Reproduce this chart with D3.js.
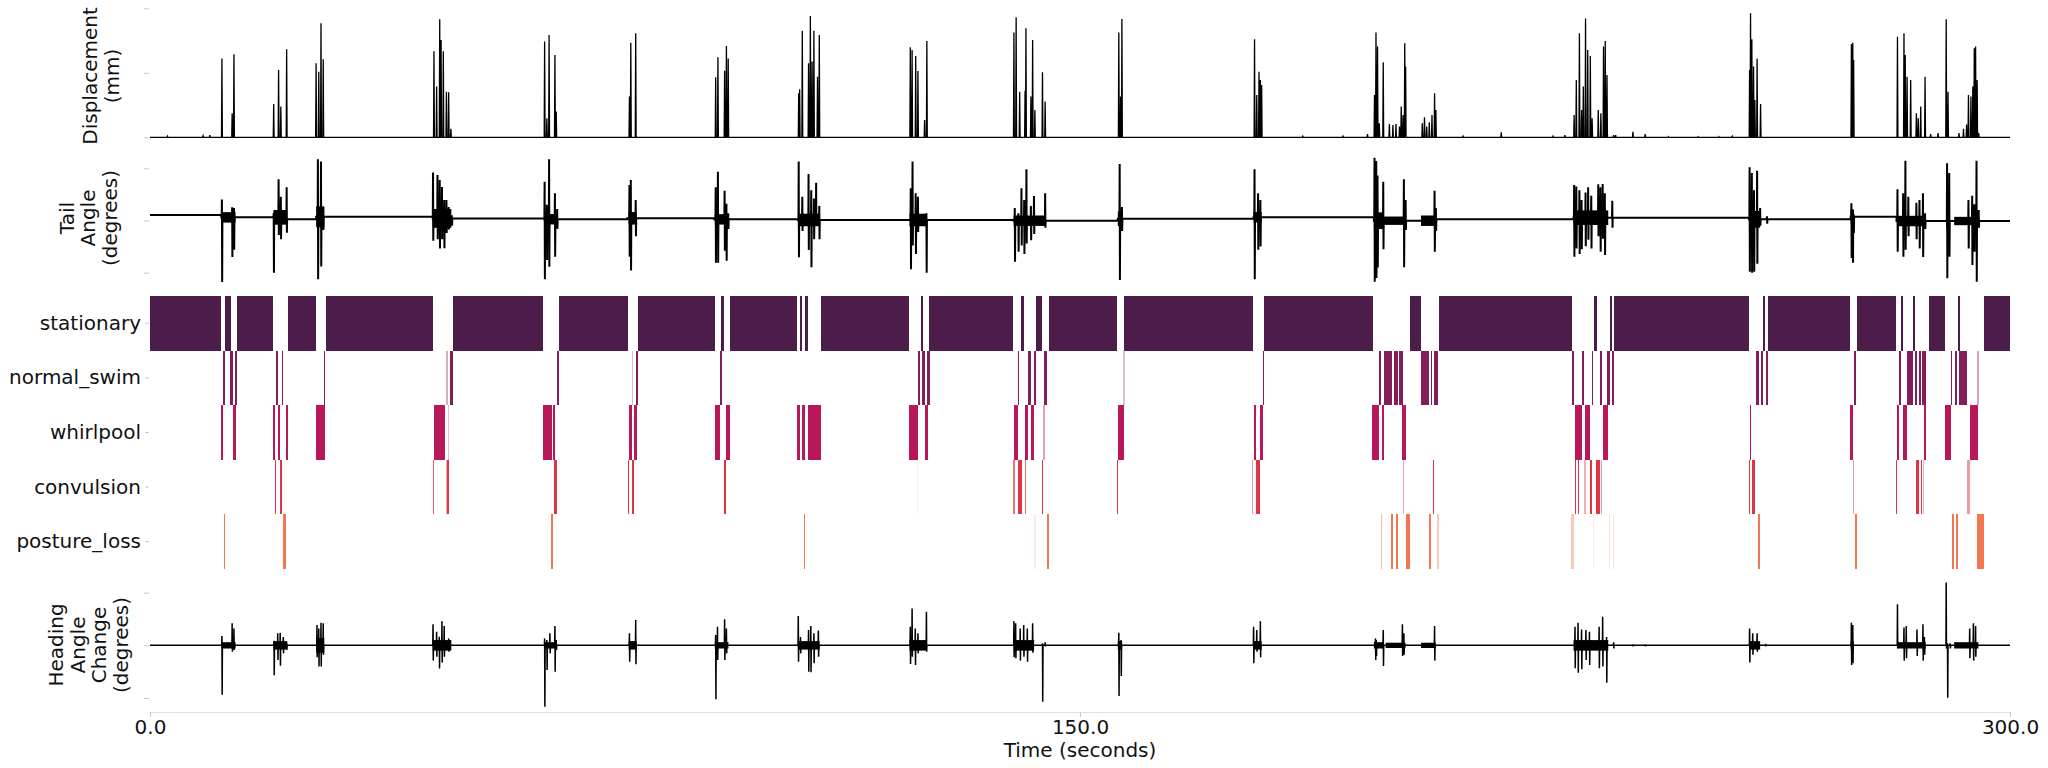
<!DOCTYPE html>
<html><head><meta charset="utf-8">
<script src="https://cdn.jsdelivr.net/npm/d3@7"></script>
<style>body{margin:0;background:#fff} text{font-family:"DejaVu Sans",sans-serif}</style>
</head><body><svg id="c" width="2048" height="768"></svg>
<script>
// ---------------- data ----------------
const timeDomain = [0, 300];
const xTickValues = [0, 150, 300];
const xTickLabels = ["0.0", "150.0", "300.0"];
const xAxisTitle = "Time (seconds)";
const behaviors = ["stationary", "normal_swim", "whirlpool", "convulsion", "posture_loss"];
const behaviorColors = ["#4c1d4b", "#841e5a", "#b8185a", "#e13342", "#f37651"];
const dispLabel = ["Displacement", "(mm)"];
const tailLabel = ["Tail", "Angle", "(degrees)"];
const headLabel = ["Heading", "Angle", "Change", "(degrees)"];

// displacement spikes: [time s, mm]
const displacementSpikes = [
[2.81,0.05],[8.57,0.07],[9.65,0.1],
[11.60,3.67],[13.25,1.12],[13.54,3.86],
[19.95,1.55],[20.74,3.13],[21.10,1.43],[22.04,4.10],
[26.79,3.44],[27.22,3.05],[27.58,5.30],[27.94,3.63],
[45.80,4.00],[46.23,2.36],[46.73,5.49],[46.95,4.53],[47.31,4.00],[47.81,2.12],[48.17,2.10],[48.53,0.40],
[63.65,4.45],[64.01,0.88],[64.37,4.76],[65.31,3.83],[65.52,1.20],
[77.33,1.90],[77.55,4.40],[78.34,4.84],
[91.24,2.79],[91.60,3.72],[92.68,3.10],[92.97,4.25],[93.26,3.67],
[104.63,2.05],[104.78,2.23],[105.21,4.95],[106.22,3.44],[106.51,5.64],[106.79,3.52],[107.08,4.96],[107.66,2.82],[107.95,4.76],
[122.63,4.19],[122.92,4.06],[123.50,3.78],[123.86,3.08],[124.94,0.80],[125.30,4.48],
[139.34,4.87],[139.70,5.58],[140.27,2.12],[141.14,2.17],[141.28,5.07],[142.08,1.90],[142.36,4.53],[142.72,1.27],[143.95,3.02],[144.38,1.66],
[156.26,4.87],[156.55,1.90],[156.76,5.50],
[178.15,4.56],[178.51,1.97],[178.87,3.05],[179.09,2.67],[179.30,2.43],
[185.93,0.05],[192.41,0.05],[196.37,0.15],
[197.50,1.97],[197.74,4.88],[197.99,4.22],[198.27,0.65],[198.91,3.49],
[199.90,0.62],[200.47,0.57],[200.96,0.62],[201.53,0.50],[201.81,1.43],[202.10,1.04],[202.38,4.37],[202.52,3.29],
[205.21,0.65],[205.56,0.93],[205.92,0.50],[206.34,0.70],[206.77,1.04],[207.19,2.05],[207.40,1.27],
[211.79,0.05],[217.95,0.23],[226.30,0.05],[228.20,0.10],
[229.70,1.04],[230.05,2.67],[230.55,4.84],[230.90,1.27],[231.18,2.36],[231.54,5.53],[231.89,4.06],[232.31,3.78],[232.60,0.88],[233.59,1.27],[234.01,1.12],[234.44,4.22],[234.72,4.48],[235.00,2.90],
[236.07,0.10],[236.40,0.10],[239.18,0.25],[241.16,0.15],[244.90,0.03],[249.70,0.03],[253.05,0.03],[255.20,0.05],
[258.00,3.13],[258.15,5.77],[258.36,4.56],[258.64,3.29],[258.85,1.74],[259.21,3.67],[259.77,1.55],
[274.42,4.34],[274.64,4.40],[274.78,3.60],
[281.85,4.68],[282.90,4.84],[283.10,3.83],[283.40,2.82],[283.98,2.67],[284.90,1.12],[285.20,0.88],[285.60,1.43],[286.30,2.82],[287.20,0.15],[288.40,0.20],
[289.71,5.49],[290.00,2.12],[291.77,0.20],[292.50,0.40],[293.00,0.60],[293.30,1.97],[293.70,1.90],[294.00,2.36],[294.24,4.14],[294.45,4.22],[294.70,2.67],[294.95,0.20]
];

// tail angle resting level: [start, end, degrees]
const tailBaseline = [
[0,11.5,5.3],[11.5,20,3],[20,26.8,1.2],[26.8,45.6,3.5],[45.6,63.6,2],[63.6,77,1.2],
[77,91,2.1],[91,104.5,1.1],[104.5,139.3,0.5],[139.3,156.1,-0.2],[156.1,178,1.7],[178,197.4,3.1],
[197.4,207.4,-0.2],[207.4,229.6,1.1],[229.6,257.9,2.7],[257.9,274.3,1.1],[274.3,281.7,3.7],[281.7,300,-0.5]
];
// tail angle swings: [time, max, min]
const tailSpikes = [
[11.60,20,-59],[13.25,12.6,-35],[13.54,11.9,-28],
[19.95,6.9,-50],[20.74,39.5,-14],[21.10,22.8,-18],[22.04,31.8,-11.7],
[27.08,58.6,-56.3],[27.58,56.4,-44],[27.94,13,-9],
[45.65,46,-19.3],[46.37,43.6,-18],[46.73,38.8,-26.7],[47.09,32,-18],[47.45,19.6,-26.6],[47.81,19.6,-12],[48.17,13,-8.6],[48.68,5,-5],
[63.65,37.2,-56.3],[64.01,15,-37.8],[64.37,58.6,-44.2],[65.31,26,-34.7],[65.67,11,-8],
[77.33,34,-34.7],[77.55,38.8,-48],[78.34,19.6,-15],
[91.24,31.8,-40.4],[91.60,46.8,-40.4],[92.68,28.6,-29],[92.97,16,-38.5],[93.26,7,-8],
[104.63,56.4,-35.3],[105.21,22.8,-10],[106.22,44.6,-28.3],[106.65,29,-44.8],[107.08,21,-18],[107.44,36.2,-5],[107.95,14,-18],
[122.70,30.8,-46.8],[122.99,56.4,-23.9],[123.50,26,-32],[123.86,22.8,-11],[125.23,7,-50],
[139.48,12,-39.5],[140.06,7,-30],[140.56,30.8,-24],[141.00,19.6,-32],[141.36,49,-22],[142.08,14,-19],[142.58,23.5,-13],[144.38,26,-7],
[156.40,54,-57],[156.76,13,-10],
[178.15,49,-56.3],[178.72,26,-28],[179.09,19.6,-25],
[197.50,60,-58.6],[197.78,57,-55],[197.99,43,-45],[198.91,37,-27.6],[202.24,39.5,-44.8],[202.52,19.6,-9],[207.19,28.6,-30],[207.40,12,-10],
[229.70,34,-34.7],[230.05,32.6,-26.7],[230.55,29,-32],[230.90,19.6,-27.6],[231.54,26.7,-24.6],[231.96,31.8,-18.4],[232.46,23.7,-26.7],[233.59,34.7,-15],[233.94,31.8,-30],[234.30,35,-17.5],[234.65,26,-33],[235.85,19,-7],
[258.00,51,-49],[258.36,45.6,-50],[258.71,29,-49],[259.21,47.7,-41.5],[259.70,11.9,-5],[260.80,4,-3],
[274.42,16.5,-36],[274.64,10,-40.4],[274.78,6,-12],
[281.85,30,-30],[282.77,26,-34.7],[283.13,57.3,-28],[283.60,22.8,-15],[284.90,17,-18],[285.40,19.6,-26.7],[285.96,26,-35],[286.30,7,-8],
[289.85,54.8,-55.4],[290.20,45.6,-34.7],[293.30,19.6,-26.7],[293.90,23.7,-42.6],[294.24,15.5,-30],[294.60,57.3,-58.6],[294.95,10,-7]
];
// dense tail oscillation during bouts: [start, end, half-range degrees]
const tailBursts = [
[11.5,13.8,5],[19.9,22.1,7],[26.8,28.1,10],[45.6,48.6,9],[63.6,65.6,5],[77.2,78.5,6],
[91.1,93.3,5],[104.5,108.0,6],[122.5,125.3,6],[139.3,144.5,5],[156.1,156.8,7],[178.0,179.3,5],
[197.4,199.0,8],[199.0,202.5,4],[205.0,207.4,5],[229.6,235.2,7],[257.9,259.7,8],[274.3,274.8,7],
[281.8,286.4,5],[289.7,290.3,7],[291.0,295.0,4]
];

// heading angle change: [time, max, min]
const headingSpikes = [
[11.60,8.9,-47],[13.25,20.9,-6],[13.54,16,-4.4],
[20.00,4.4,-28.5],[20.60,11.4,-14],[21.00,12,-19.3],[21.50,8,-7.6],[22.04,3.5,-4.4],
[26.93,19.3,-11.4],[27.22,16,-20],[27.58,21.5,-20],[27.94,20.9,-9],
[45.65,20,-14.5],[46.23,13,-10.8],[46.66,8.2,-22],[47.09,23,-16.4],[47.45,18.3,-10.8],[48.17,6.6,-6],
[63.65,6.6,-58.2],[64.01,5,-23.4],[64.50,11.4,-7.6],[65.31,18.3,-25],[65.52,5,-4.4],
[77.33,11.4,-15.5],[78.34,24,-18],
[91.24,9.8,-51.2],[91.53,17.7,-14],[92.68,24.7,-14],[92.97,16,-7.6],
[104.56,27.8,-15.5],[104.92,8,-7.6],[106.22,14.5,-25],[106.58,18.3,-25.6],[107.08,11.4,-17],[107.80,14,-10.8],
[122.63,17.7,-17.7],[122.92,35,-10.8],[123.43,16,-18.7],[123.86,11.4,-7.6],[125.23,32,-6],
[139.34,23,-11.4],[139.62,21,-12.3],[140.35,16,-14.5],[140.92,19.3,-10.8],[141.50,16,-15.5],[142.36,21,-7],[143.95,2,-53.5],[144.38,3,-1],
[156.26,12,-48],[156.62,5,-29],
[178.00,17.7,-17],[178.51,14.5,-6],[179.09,23,-11.4],
[197.66,6.6,-14],[197.78,5,-10],[198.91,14.5,-19.6],[202.00,20,-10],[202.24,11.4,-9],[207.19,18.3,-14.5],
[229.84,17.7,-21.8],[230.33,21.5,-26],[230.90,15,-22.8],[231.60,14.5,-14],[232.17,13,-18.7],[233.73,17.7,-21.8],[234.30,27.2,-20],[234.93,8,-35.4],[236.07,3,-3],
[239.18,1,-1],[241.16,1,-1],
[258.00,16,-16.4],[258.50,11.4,-9],[259.21,11.4,-6],[260.60,1.5,-1],
[274.42,21.5,-18.7],[274.64,19.3,-17],
[281.85,39,-2.8],[282.90,17,-14.5],[283.27,18.3,-12.3],[285.00,15,-10],[285.96,20,-14.5],[286.20,8,-9],
[289.71,59.8,-3],[289.92,2,-49.7],[290.35,2,-3],
[293.50,16,-12.3],[294.10,20.9,-14.5],[294.45,18.3,-10.8]
];
const headingBursts = [
[11.5,13.8,3],[19.9,22.1,4],[26.8,28.1,7],[45.6,48.6,5],[63.6,65.6,3],[77.2,78.5,4],[91.1,93.3,3],
[104.5,108.0,4],[122.5,125.3,5],[139.3,142.6,5],[156.1,156.8,4],[178.0,179.3,4],[197.4,199.0,3],
[199.3,202.5,2.5],[205.0,207.4,2.5],[229.6,235.2,5],[257.9,259.7,4],[274.3,274.8,4],[281.8,286.4,3],[291.0,294.9,3]
];

// ethogram: [start, end, probability]
const stationaryBouts = [[0,11.45,1],[12.03,13.03,1],[13.97,19.87,1],[22.25,26.79,1],[28.37,45.65,1],[48.89,63.37,1],[65.96,77.12,1],[78.7,91.1,1],[92.1,92.54,1],[93.54,104.34,1],[104.78,105.14,1],[105.64,106.15,1],[108.16,122.42,1],[124.36,124.65,1],[125.66,139.2,1],[140.56,140.99,1],[142.86,143.8,1],[144.95,155.97,1],[157.12,177.86,1],[179.66,197.28,1],[203.23,204.93,1],[207.97,229.34,1],[232.88,233.38,1],[235.5,235.85,1],[236.2,257.93,1],[260.13,260.41,1],[260.98,274.21,1],[275.35,281.64,1],[282.42,282.77,1],[284.33,284.68,1],[286.95,289.5,1],[291.62,291.9,1],[295.8,300,1]];
const normalSwimBouts = [[11.81,12.03,1],[12.96,13.32,1],[13.75,13.97,1],[20.3,20.67,1],[21.3,21.5,1],[28.08,28.3,1],[47.8,48.0,0.35],[48.31,48.89,1],[65.67,65.96,1],[77.7,77.9,0.3],[78.4,78.7,1],[91.96,92.18,1],[123.86,124.22,1],[124.58,124.94,1],[125.3,125.8,1],[139.98,140.2,1],[141.64,142.07,1],[142.5,142.94,1],[144.16,144.6,1],[156.98,157.2,0.3],[179.44,179.66,1],[198.2,198.56,1],[199.05,200.26,1],[200.68,201.25,1],[201.39,202.1,1],[204.93,206.27,1],[206.63,206.84,1],[207.12,207.76,1],[229.34,229.7,1],[230.9,231.25,1],[232.53,232.81,1],[233.87,234.15,1],[235.07,235.5,1],[235.78,236.13,1],[259.07,259.56,1],[259.77,260.13,1],[260.62,260.98,1],[274.85,275.13,1],[282.06,282.42,1],[283.41,284.33,1],[284.68,284.96,1],[285.25,285.6,1],[285.88,286.45,1],[290.42,290.7,1],[291.05,291.4,1],[291.83,293.1,1],[294.7,294.95,0.4]];
const whirlpoolBouts = [[11.45,11.81,1],[13.32,13.82,1],[19.87,20.23,1],[20.67,21.03,1],[21.89,22.25,1],[26.79,28.15,1],[45.8,47.6,1],[48.0,48.3,0.3],[63.37,64.8,1],[65.02,65.38,1],[77.33,77.69,1],[78.05,78.48,1],[91.1,91.96,1],[92.9,93.47,1],[104.34,104.78,1],[105.14,105.64,1],[106.15,108.16,1],[122.42,123.86,1],[125.01,125.44,1],[139.34,139.98,1],[141.14,141.64,1],[142.07,142.58,1],[144.0,144.3,0.4],[156.11,157.12,1],[178.0,178.44,1],[179.01,179.51,1],[197.16,198.2,1],[198.63,198.98,1],[202.0,202.52,1],[229.84,230.33,1],[230.4,230.9,1],[231.4,232.25,1],[234.3,235.15,1],[258.0,258.29,1],[274.21,274.71,1],[281.78,282.06,1],[282.77,283.41,1],[286.1,286.38,1],[289.5,290.42,1],[293.53,294.8,1]];
const convulsionBouts = [[20.16,20.38,1],[20.96,21.31,1],[45.65,45.8,0.8],[47.67,47.81,0.4],[47.88,48.24,1],[65.24,65.6,1],[77.12,77.33,1],[77.76,78.12,1],[92.61,92.9,1],[123.64,123.86,0.1],[139.26,139.48,0.7],[140.06,140.7,1],[141.07,141.28,0.7],[143.8,144.0,1],[155.9,156.11,1],[177.72,177.93,0.5],[178.44,179.09,1],[202.1,202.3,0.4],[206.91,207.12,1],[229.84,230.05,1],[230.33,230.47,1],[231.32,231.54,0.4],[232.31,232.53,1],[233.3,233.87,1],[234.01,234.22,0.5],[257.93,258.1,1],[258.35,258.95,1],[274.64,274.85,0.5],[281.64,281.78,1],[284.9,285.3,1],[285.6,285.8,1],[285.96,286.17,0.4],[293.1,293.53,0.5]];
const postureLossBouts = [[11.88,12.1,1],[21.39,21.89,1],[64.66,65.02,1],[105.43,105.64,1],[142.65,142.86,0.15],[144.6,145.0,1],[198.49,198.7,0.5],[200.19,200.54,1],[200.96,201.32,1],[202.52,203.23,1],[206.27,206.63,1],[207.61,207.9,0.4],[229.27,229.63,0.4],[232.67,232.88,0.15],[235.3,235.5,0.2],[236.0,236.2,0.2],[259.42,259.7,1],[275.06,275.35,1],[290.63,290.98,1],[291.26,291.62,1],[294.74,295.8,1]];

// ---------------- drawing ----------------
const svg = d3.select("#c");
const x = d3.scaleLinear().domain(timeDomain).range([150, 2010]);
const yD = d3.scaleLinear().domain([0, 6]).range([137.3, 8.3]);
const yT = d3.scaleLinear().domain([-50, 50]).range([272.7, 168.3]);
const yH = d3.scaleLinear().domain([-50, 50]).range([698, 592.7]);
const yB = d3.scaleBand().domain(behaviors).range([296, 569]);
const tickCol = "#c8c8c8";

function styleAxis(g) {
  g.select(".domain").remove();
  g.selectAll(".tick line").attr("stroke", tickCol);
}
[[yD, [0, 3, 6]], [yT, [-50, 0, 50]], [yH, [-50, 0, 50]]].forEach(([s, tv]) => {
  svg.append("g").attr("transform", "translate(149,0)")
    .call(d3.axisLeft(s).tickValues(tv).tickSize(5).tickFormat(""))
    .call(styleAxis);
});

// ethogram
const ethogram = [stationaryBouts, normalSwimBouts, whirlpoolBouts, convulsionBouts, postureLossBouts];
behaviors.forEach((b, i) => {
  const col = d3.interpolateRgb("#ffffff", behaviorColors[i]);
  svg.append("g").attr("shape-rendering", "crispEdges").selectAll("rect").data(ethogram[i]).join("rect")
    .attr("x", d => x(d[0])).attr("width", d => Math.max(1, x(d[1]) - x(d[0])))
    .attr("y", yB(b)).attr("height", yB.bandwidth())
    .attr("fill", d => col(d[2]));
});
svg.append("g").attr("transform", "translate(149,0)")
  .call(d3.axisLeft(yB).tickSize(4).tickPadding(4))
  .call(styleAxis)
  .call(g => g.selectAll("text").attr("font-size", 20).attr("fill", "#111").attr("font-family", "DejaVu Sans"));

// displacement trace
const dispPts = [[0, 0]];
displacementSpikes.slice().sort((a, b) => a[0] - b[0]).forEach(([t, h]) => {
  dispPts.push([t - 0.07, 0], [t, h], [t + 0.07, 0]);
});
dispPts.push([300, 0]);
svg.append("path").attr("d", d3.line().x(d => x(d[0])).y(d => yD(d[1]))(dispPts))
  .attr("fill", "none").attr("stroke", "#000").attr("stroke-width", 1.3).attr("stroke-linejoin", "miter");

// tail angle
const tailBase = t => (tailBaseline.find(s => t >= s[0] && t < s[1]) || tailBaseline[tailBaseline.length - 1])[2];
svg.append("g").selectAll("rect").data(tailBursts).join("rect")
  .attr("x", d => x(d[0])).attr("width", d => x(d[1]) - x(d[0]))
  .attr("y", d => yT(tailBase(d[0]) + d[2])).attr("height", d => yT(-d[2]) - yT(d[2]))
  .attr("fill", "#000");
const tailEvents = [];
tailBaseline.forEach(s => tailEvents.push({t: s[0], pts: [[s[0], s[2]]]}, {t: s[1] - 0.001, pts: [[s[1] - 0.001, s[2]]]}));
tailSpikes.forEach(([t, up, dn]) => {
  const b = tailBase(t);
  tailEvents.push({t: t, pts: [[t - 0.04, b], [t, up], [t + 0.04, dn], [t + 0.08, b]]});
});
tailEvents.sort((a, b) => a.t - b.t);
const tailPts = tailEvents.flatMap(e => e.pts);
svg.append("path").attr("d", d3.line().x(d => x(d[0])).y(d => yT(d[1]))(tailPts))
  .attr("fill", "none").attr("stroke", "#000").attr("stroke-width", 2);

// heading angle change
svg.append("g").selectAll("rect").data(headingBursts).join("rect")
  .attr("x", d => x(d[0])).attr("width", d => x(d[1]) - x(d[0]))
  .attr("y", d => yH(d[2])).attr("height", d => yH(-d[2]) - yH(d[2]))
  .attr("fill", "#000");
const headPts = [[0, 0]];
headingSpikes.slice().sort((a, b) => a[0] - b[0]).forEach(([t, up, dn]) => {
  headPts.push([t - 0.04, 0], [t, up], [t + 0.04, dn], [t + 0.08, 0]);
});
headPts.push([300, 0]);
svg.append("path").attr("d", d3.line().x(d => x(d[0])).y(d => yH(d[1]))(headPts))
  .attr("fill", "none").attr("stroke", "#000").attr("stroke-width", 1.5);

// x axis
svg.append("g").attr("transform", "translate(0,712)")
  .call(d3.axisBottom(x).tickValues(xTickValues).tickFormat((d, i) => xTickLabels[i]).tickSize(5).tickSizeOuter(0))
  .call(g => g.select(".domain").attr("stroke", "#e0e0e0"))
  .call(g => g.selectAll(".tick line").attr("stroke", tickCol))
  .call(g => g.selectAll("text").attr("font-size", 20).attr("fill", "#111").attr("font-family", "DejaVu Sans"));
svg.append("text").attr("x", 1080).attr("y", 757).attr("text-anchor", "middle")
  .attr("font-size", 20).attr("fill", "#111").text(xAxisTitle);

// y labels
function yLabel(lines, cy, baselines) {
  lines.forEach((s, i) => {
    svg.append("text").attr("transform", `translate(${baselines[i]},${cy}) rotate(-90)`)
      .attr("text-anchor", "middle").attr("font-size", 20).attr("fill", "#111").text(s);
  });
}
yLabel(dispLabel, 76, [97, 119]);
yLabel(tailLabel, 218, [74, 95, 117]);
yLabel(headLabel, 645, [63, 84.5, 106, 128]);
</script></body></html>
